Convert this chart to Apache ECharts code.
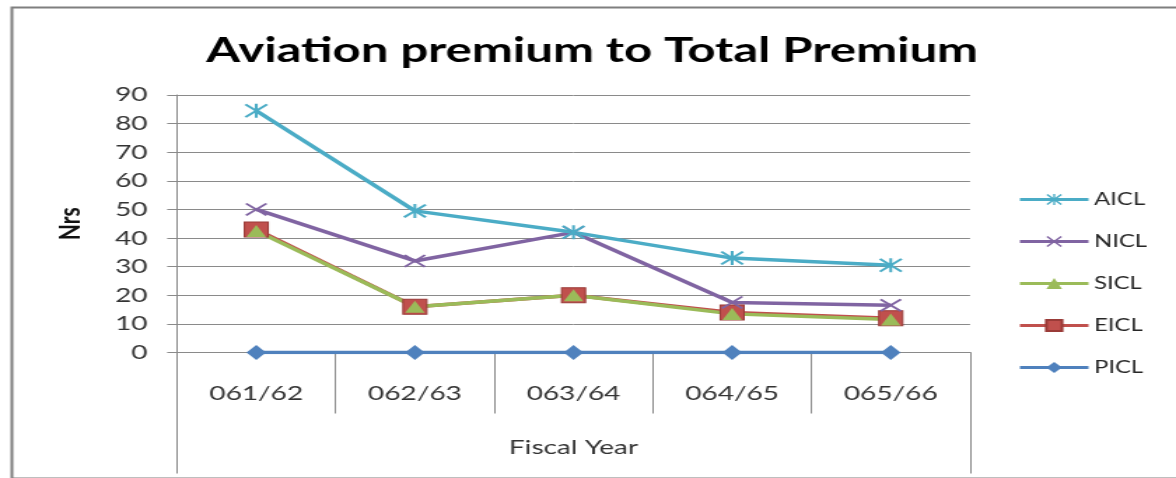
<!DOCTYPE html>
<html>
<head>
<meta charset="utf-8">
<script src="https://cdn.jsdelivr.net/npm/echarts@6/dist/echarts.min.js"></script>
<style>
  html, body { margin: 0; padding: 0; background: #fff; overflow: hidden; }
  /* the chart is laid out narrow and widened to give the wide, stretched lettering */
  #chart { width: 840px; height: 478px; transform: scaleX(1.4); transform-origin: 0 0; }
</style>
</head>
<body>
<div id="chart"></div>
<script>
const fiscalYears = ['061/62', '062/63', '063/64', '064/65', '065/66'];
const aiclValues = [84.5, 49.5, 42, 33, 30.5];
const niclValues = [50, 32, 42, 17.5, 16.5];
const siclValues = [42.5, 16, 20, 13.5, 11.5];
const eiclValues = [43, 16, 20, 14, 12];
const piclValues = [0, 0, 0, 0, 0];
const yTickLabels = [0, 10, 20, 30, 40, 50, 60, 70, 80, 90];

const FONT = 'Lato';
const TEXT = '#333333';
const GRID_LINE = '#8a8a8a';

// marker outlines
const X_MARK = 'path://M0,0.9L0.9,0L5,4.1L9.1,0L10,0.9L5.9,5L10,9.1L9.1,10L5,5.9L0.9,10L0,9.1L4.1,5Z';
const STAR_MARK = X_MARK + 'M4.4,0L5.6,0L5.6,10L4.4,10Z';

function lineSeries(name, data, color, symbol, size, extra) {
  return Object.assign({
    name: name,
    type: 'line',
    data: data,
    symbol: symbol,
    symbolSize: size,
    showSymbol: true,
    lineStyle: { color: color, width: 3.5 },
    itemStyle: { color: color },
    emphasis: { disabled: true }
  }, extra || {});
}

const chart = echarts.init(document.getElementById('chart'));
chart.setOption({
  animation: false,
  backgroundColor: '#fff',
  textStyle: { fontFamily: FONT },
  title: {
    text: 'Aviation premium to Total Premium',
    left: 423,
    textAlign: 'center',
    top: 33,
    padding: 0,
    textStyle: { fontFamily: FONT, fontSize: 35, fontWeight: 'bold', color: '#000' }
  },
  graphic: [{
    type: 'rect',
    left: 6, top: 5,
    shape: { width: 900, height: 471 },
    style: { fill: 'none', stroke: '#7f7f7f', lineWidth: 2 },
    silent: true
  }],
  legend: {
    orient: 'vertical',
    left: 727,
    top: 191,
    padding: 0,
    itemWidth: 49,
    itemHeight: 14,
    itemGap: 25,
    data: ['AICL', 'NICL', 'SICL', 'EICL', 'PICL'],
    lineStyle: { width: 3 },
    textStyle: { fontFamily: FONT, fontSize: 17, color: '#262626', padding: [0, 0, 0, -1] }
  },
  grid: {
    left: 126.4, right: 147.1, top: 95, bottom: 125.5,
    outerBoundsMode: 'none'
  },
  xAxis: [{
    type: 'category',
    data: fiscalYears,
    boundaryGap: true,
    axisLine: { show: true, lineStyle: { color: GRID_LINE, width: 1 } },
    axisTick: { show: true, length: 61, lineStyle: { color: GRID_LINE, width: 1 } },
    axisLabel: { margin: 31, fontFamily: FONT, fontSize: 20, color: TEXT }
  }, {
    // outer level of the category axis: one band spanning all years
    type: 'category',
    data: ['Fiscal Year'],
    position: 'bottom',
    boundaryGap: true,
    axisLine: { show: false },
    axisTick: { show: true, length: 121, lineStyle: { color: GRID_LINE, width: 1 } },
    axisLabel: { margin: 85, fontFamily: FONT, fontSize: 20, color: TEXT }
  }],
  yAxis: {
    type: 'value',
    min: yTickLabels[0],
    max: yTickLabels[yTickLabels.length - 1],
    interval: yTickLabels[1] - yTickLabels[0],
    name: 'Nrs',
    nameLocation: 'middle',
    nameRotate: 90,
    nameGap: 66,
    nameTextStyle: { fontFamily: FONT, fontSize: 21, fontWeight: 'bold', color: '#111' },
    axisLine: { show: true, lineStyle: { color: GRID_LINE, width: 1 } },
    axisTick: { show: true, length: 7, lineStyle: { color: GRID_LINE } },
    axisLabel: { margin: 21, fontFamily: FONT, fontSize: 20, color: TEXT },
    splitLine: { show: true, lineStyle: { color: GRID_LINE, width: 1 } }
  },
  series: [
    lineSeries('PICL', piclValues, '#4f81bd', 'diamond', [14, 15]),
    lineSeries('EICL', eiclValues, '#c0504d', 'rect', [17, 15],
      { itemStyle: { color: '#c0504d', borderColor: '#9a3b38', borderWidth: 1 } }),
    lineSeries('SICL', siclValues, '#9bbb59', 'triangle', [14, 12]),
    lineSeries('NICL', niclValues, '#8064a2', X_MARK, [16, 13]),
    lineSeries('AICL', aiclValues, '#4bacc6', STAR_MARK, [17, 14])
  ]
});
</script>
</body>
</html>
